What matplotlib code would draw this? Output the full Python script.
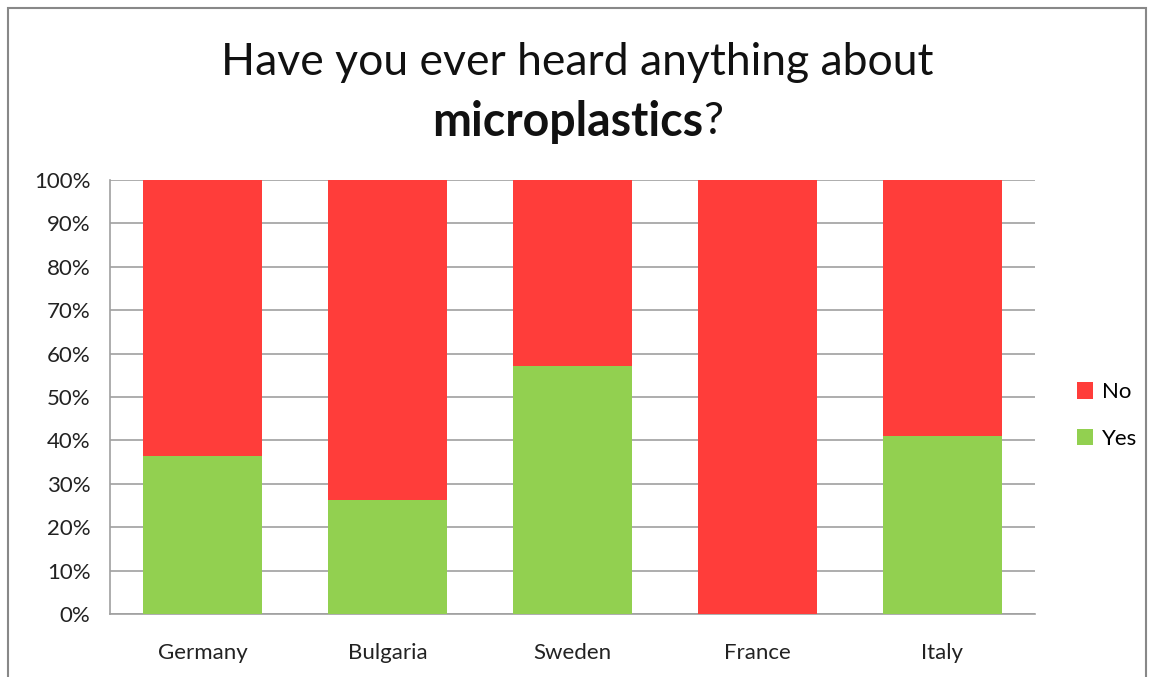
import matplotlib
matplotlib.use('Agg')
import matplotlib.pyplot as plt
from matplotlib.patches import Rectangle

# survey results (share of respondents)
countries = ["Germany", "Bulgaria", "Sweden", "France", "Italy"]
yes = [0.365, 0.263, 0.571, 0.0, 0.409]
no = [1 - v for v in yes]

plt.rcParams['font.family'] = ['Lato', 'DejaVu Sans']

fig = plt.figure(figsize=(11.55, 6.77), dpi=100)
ax = fig.add_axes([0.0952, 0.0931, 0.8009, 0.641])

ax.bar(countries, yes, width=0.645, color="#92D050", label="Yes", zorder=3)
ax.bar(countries, no, width=0.645, bottom=yes, color="#FF3D3A", label="No", zorder=3)

ax.set_ylim(0, 1)
ax.set_xlim(-0.5, 4.5)
ax.set_yticks([i / 10 for i in range(11)])
ax.set_yticklabels([f"{i * 10}%" for i in range(11)], fontsize=16, color="#222222")
ax.tick_params(axis='y', length=0, pad=14)
ax.tick_params(axis='x', length=0, pad=21, labelsize=16, labelcolor="#222222")
ax.grid(axis='y', color="#A0A0A0", linewidth=1.2, zorder=0)
for s in ["top", "right"]:
    ax.spines[s].set_visible(False)
for s in ["left", "bottom"]:
    ax.spines[s].set_color("#A0A0A0")
    ax.spines[s].set_linewidth(1.2)

# legend on the right, No above Yes
handles, labels = ax.get_legend_handles_labels()
fig.legend(handles[::-1], labels[::-1], loc="center left", bbox_to_anchor=(0.915, 0.386),
           frameon=False, fontsize=16, handlelength=0.75, handleheight=0.75,
           handletextpad=0.4, labelspacing=1.2)

# two-line title, second line partly bold
fig.text(0.5, 0.908, "Have you ever heard anything about", ha="center", va="center",
         fontsize=32, color="#111111")
fig.text(0.609, 0.820, "microplastics", ha="right", va="center", fontsize=33.5,
         fontweight="bold", color="#111111")
fig.text(0.609, 0.820, "?", ha="left", va="center", fontsize=32, color="#111111")

# outer border of the chart
fig.patches.append(Rectangle((0.007, -0.01), 0.985, 0.998, transform=fig.transFigure,
                             fill=False, edgecolor="#888888", linewidth=1.5))

fig.savefig("out.png", dpi=100)
